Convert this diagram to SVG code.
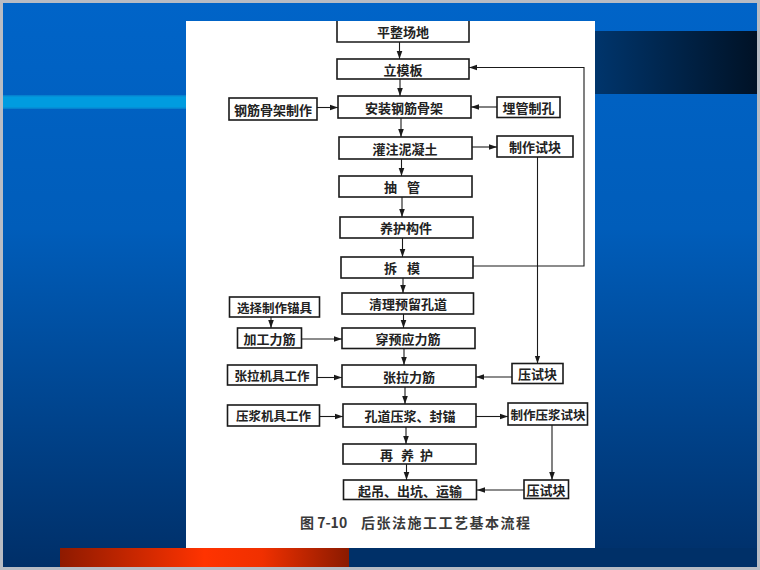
<svg xmlns="http://www.w3.org/2000/svg" width="760" height="570" viewBox="0 0 760 570">
  <defs>
    <linearGradient id="bg" x1="0" y1="0" x2="0" y2="1">
      <stop offset="0" stop-color="#0064C8"/>
      <stop offset="0.4" stop-color="#005DBA"/>
      <stop offset="1" stop-color="#002F68"/>
    </linearGradient>
    <linearGradient id="band" x1="0" y1="0" x2="1" y2="0">
      <stop offset="0" stop-color="#00356C"/>
      <stop offset="1" stop-color="#001226"/>
    </linearGradient>
    <linearGradient id="red" x1="0" y1="0" x2="1" y2="0">
      <stop offset="0" stop-color="#8E1A00"/>
      <stop offset="0.5" stop-color="#FF3300"/>
      <stop offset="0.7" stop-color="#F03000"/>
      <stop offset="1" stop-color="#8A1A00"/>
    </linearGradient>
    <marker id="ah" viewBox="0 0 10 10" refX="10" refY="5" markerWidth="8" markerHeight="8" markerUnits="userSpaceOnUse" orient="auto">
      <path d="M0,1.5 L10,5 L0,8.5 Z" fill="#1a1a1a"/>
    </marker>
    <style>
      .box { fill: #ffffff; stroke: #1a1a1a; stroke-width: 1.6; }
      .lbl { font-family: "Noto Sans CJK SC", "Noto Sans", sans-serif; font-size: 13px; font-weight: 700; fill: #222; dominant-baseline: central; }
      .sm { font-size: 12.5px; }
      .mid { text-anchor: middle; }
      .cap { font-family: "Noto Sans CJK SC", "Noto Sans", sans-serif; font-size: 14px; font-weight: 700; fill: #3a3a3a; }
      .ln { fill: none; stroke: #1a1a1a; stroke-width: 1.1; }
      .ar { marker-end: url(#ah); }
    </style>
  </defs>

  <!-- slide background -->
  <rect x="0" y="0" width="760" height="570" fill="#B8BCC4"/>
  <rect x="3" y="3" width="754" height="564" fill="url(#bg)"/>
  <rect x="3" y="95.5" width="183" height="13" fill="#009CE0"/>
  <rect x="3" y="95.5" width="183" height="1" fill="#0A86D0"/>
  <rect x="3" y="107.5" width="183" height="1" fill="#0A86D0"/>
  <rect x="595" y="31" width="162" height="63" fill="url(#band)"/>
  <rect x="60" y="548" width="289" height="19" fill="url(#red)"/>
  <rect x="349" y="548" width="408" height="19" fill="#003068"/>

  <!-- white panel -->
  <rect x="186" y="21" width="409" height="527" fill="#ffffff"/>

  <!-- connectors -->
  <g id="connectors">
    <line class="ln ar" x1="399.5" y1="42" x2="399.5" y2="59"/>
    <line class="ln ar" x1="400" y1="79" x2="400" y2="96"/>
    <line class="ln ar" x1="401" y1="118" x2="401" y2="137"/>
    <line class="ln ar" x1="401.5" y1="159" x2="401.5" y2="176"/>
    <line class="ln ar" x1="402" y1="197" x2="402" y2="217"/>
    <line class="ln ar" x1="402.5" y1="238" x2="402.5" y2="257"/>
    <line class="ln ar" x1="403" y1="278" x2="403" y2="293"/>
    <line class="ln ar" x1="403.5" y1="314" x2="403.5" y2="328"/>
    <line class="ln ar" x1="404" y1="348" x2="404" y2="365"/>
    <line class="ln ar" x1="405" y1="387" x2="405" y2="404"/>
    <line class="ln ar" x1="406" y1="427" x2="406" y2="444"/>
    <line class="ln ar" x1="406.5" y1="464" x2="406.5" y2="480"/>

    <line class="ln ar" x1="317" y1="107.5" x2="338" y2="107.5"/>
    <line class="ln ar" x1="497" y1="107" x2="471" y2="107"/>
    <line class="ln ar" x1="472" y1="147" x2="497" y2="147"/>
    <polyline class="ln ar" points="473,266 584,266 584,67.5 469,67.5"/>
    <line class="ln ar" x1="537.5" y1="157" x2="537.5" y2="363.5"/>
    <line class="ln ar" x1="512" y1="377" x2="476" y2="377"/>
    <line class="ln ar" x1="271" y1="317" x2="271" y2="328"/>
    <line class="ln ar" x1="302" y1="339" x2="342" y2="339"/>
    <line class="ln ar" x1="317" y1="377.5" x2="342" y2="377.5"/>
    <line class="ln ar" x1="319" y1="416.5" x2="343" y2="416.5"/>
    <line class="ln ar" x1="476" y1="416.5" x2="508" y2="416.5"/>
    <line class="ln ar" x1="552" y1="425" x2="552" y2="480"/>
    <line class="ln ar" x1="524" y1="490" x2="477" y2="490"/>
  </g>

  <!-- nodes -->
  <g id="n-pingzheng">
    <path class="box" d="M337,21 L337,42 L469,42 L469,21"/>
    <text class="lbl mid" x="403" y="31">平整场地</text>
  </g>
  <g id="n-limuban">
    <rect class="box" x="337" y="59" width="132" height="20"/>
    <text class="lbl mid" x="403" y="69">立模板</text>
  </g>
  <g id="n-anzhuang">
    <rect class="box" x="338" y="96" width="133" height="22"/>
    <text class="lbl mid" x="404" y="107">安装钢筋骨架</text>
  </g>
  <g id="n-gangjin-zhizuo">
    <rect class="box" x="229" y="98" width="88" height="22"/>
    <text class="lbl mid" x="273" y="109">钢筋骨架制作</text>
  </g>
  <g id="n-maiguan">
    <rect class="box" x="497" y="97" width="63" height="20.5"/>
    <text class="lbl mid" x="528.5" y="107.5">埋管制孔</text>
  </g>
  <g id="n-guanzhu">
    <rect class="box" x="339" y="137" width="133" height="22"/>
    <text class="lbl mid" x="405" y="148">灌注泥凝土</text>
  </g>
  <g id="n-shikuai1">
    <rect class="box" x="497" y="136" width="76" height="21"/>
    <text class="lbl mid" x="535" y="146.5">制作试块</text>
  </g>
  <g id="n-chouguan">
    <rect class="box" x="339" y="176" width="133" height="21"/>
    <text class="lbl" x="384 407" y="186.5">抽管</text>
  </g>
  <g id="n-yanghu">
    <rect class="box" x="340" y="217" width="133" height="21"/>
    <text class="lbl mid" x="406" y="227.5">养护构件</text>
  </g>
  <g id="n-chaimo">
    <rect class="box" x="341" y="257" width="132" height="21"/>
    <text class="lbl" x="384 407" y="267.5">拆模</text>
  </g>
  <g id="n-qingli">
    <rect class="box" x="342" y="293" width="131.5" height="21"/>
    <text class="lbl mid" x="408" y="303.5">清理预留孔道</text>
  </g>
  <g id="n-maoju">
    <rect class="box" x="229.5" y="297" width="90" height="20"/>
    <text class="lbl sm mid" x="274.5" y="307">选择制作锚具</text>
  </g>
  <g id="n-jiagong">
    <rect class="box" x="237.5" y="328" width="64" height="20"/>
    <text class="lbl mid" x="269.5" y="338">加工力筋</text>
  </g>
  <g id="n-chuan">
    <rect class="box" x="342" y="328" width="133" height="20.5"/>
    <text class="lbl mid" x="408" y="338">穿预应力筋</text>
  </g>
  <g id="n-zhangla-jiju">
    <rect class="box" x="227.5" y="365" width="89.5" height="20"/>
    <text class="lbl sm mid" x="272" y="375">张拉机具工作</text>
  </g>
  <g id="n-zhangla">
    <rect class="box" x="342" y="365" width="134" height="22"/>
    <text class="lbl mid" x="409" y="376">张拉力筋</text>
  </g>
  <g id="n-yashikuai1">
    <rect class="box" x="512" y="363.5" width="51" height="20"/>
    <text class="lbl mid" x="537.5" y="373.5">压试块</text>
  </g>
  <g id="n-yajiang-jiju">
    <rect class="box" x="227.5" y="405" width="92" height="21"/>
    <text class="lbl sm mid" x="273.5" y="415.5">压浆机具工作</text>
  </g>
  <g id="n-kongdao">
    <rect class="box" x="343" y="404" width="133" height="23"/>
    <text class="lbl mid" x="410" y="415.5">孔道压浆、封锚</text>
  </g>
  <g id="n-yajiang-shikuai">
    <rect class="box" x="508" y="403" width="79.5" height="22"/>
    <text class="lbl sm mid" x="548" y="414">制作压浆试块</text>
  </g>
  <g id="n-zaiyanghu">
    <rect class="box" x="343" y="444" width="133" height="20"/>
    <text class="lbl" x="380 401 420" y="454">再养护</text>
  </g>
  <g id="n-qidiao">
    <rect class="box" x="343.5" y="480" width="133" height="19.5"/>
    <text class="lbl mid" x="410" y="490">起吊、出坑、运输</text>
  </g>
  <g id="n-yashikuai2">
    <rect class="box" x="524" y="480" width="44.5" height="18.5"/>
    <text class="lbl mid" x="546" y="489.5">压试块</text>
  </g>

  <!-- caption -->
  <text class="cap" x="300" y="528">图 7-10</text>
  <text class="cap" x="361" y="528" letter-spacing="1.5">后张法施工工艺基本流程</text>
</svg>
